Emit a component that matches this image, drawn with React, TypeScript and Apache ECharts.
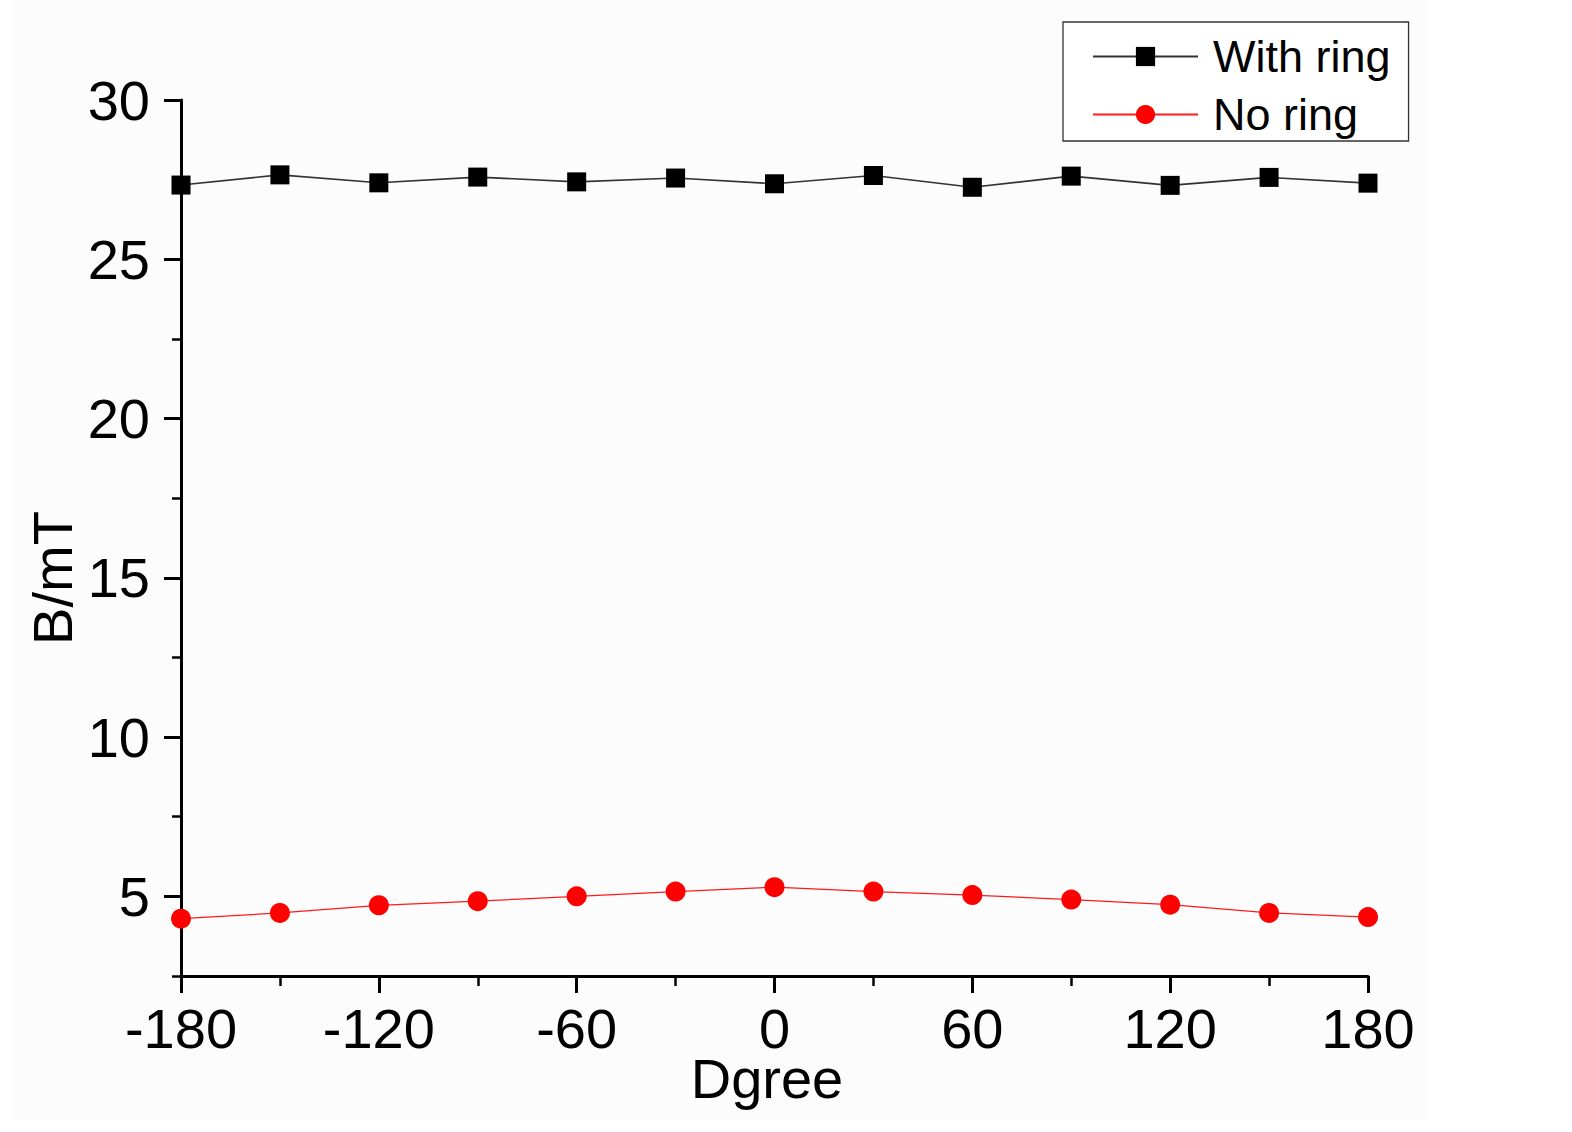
import React, { useEffect, useRef } from "react";
import * as echarts from "echarts";

const degrees = [-180, -150, -120, -90, -60, -30, 0, 30, 60, 90, 120, 150, 180];
const withRing = [27.33, 27.65, 27.4, 27.58, 27.43, 27.55, 27.37, 27.63, 27.26, 27.61, 27.32, 27.57, 27.39];
const noRing = [4.3, 4.48, 4.72, 4.85, 5.0, 5.15, 5.29, 5.15, 5.04, 4.9, 4.74, 4.48, 4.35];
const yMajorTicks = [5, 10, 15, 20, 25, 30];
const yMinorTicks = [2.5, 7.5, 12.5, 17.5, 22.5, 27.5];
const seriesNames = ["With ring", "No ring"];
const xTitle = "Dgree";
const yTitle = "B/mT";

const FONT = "Liberation Sans, Arial, sans-serif";

export default function App() {
  const ref = useRef<HTMLDivElement>(null);
  useEffect(() => {
    if (!ref.current) return;
    const chart = echarts.init(ref.current, null, { renderer: "svg" });
    const pair = (ys: number[]) => degrees.map((d, i) => [d, ys[i]]);
    chart.setOption({
      animation: false,
      backgroundColor: "#ffffff",
      textStyle: { fontFamily: FONT },
      grid: { left: 181, right: 204, top: 100, bottom: 156 },
      graphic: [
        {
          type: "rect",
          z: -10,
          silent: true,
          shape: { x: 14, y: 0, width: 1412, height: 1119 },
          style: { fill: "#fcfcfc" },
        },
        {
          type: "text",
          x: 767,
          y: 1078,
          style: {
            text: xTitle,
            fontSize: 56,
            lineHeight: 44,
            fontFamily: FONT,
            fill: "#000",
            textAlign: "center",
            textVerticalAlign: "middle",
          },
        },
        {
          type: "text",
          x: 52,
          y: 578,
          rotation: Math.PI / 2,
          style: {
            text: yTitle,
            fontSize: 56,
            fontFamily: FONT,
            fill: "#000",
            textAlign: "center",
            textVerticalAlign: "middle",
          },
        },
      ],
      legend: {
        orient: "vertical",
        left: 1063,
        top: 22,
        borderColor: "#333",
        borderWidth: 1.3,
        backgroundColor: "#fff",
        padding: [12, 18, 4, 29],
        itemWidth: 105,
        itemHeight: 24,
        itemGap: 13,
        data: seriesNames,
        textStyle: { fontSize: 45, color: "#000", fontFamily: FONT, padding: [0, 0, 0, 10] },
      },
      xAxis: {
        type: "value",
        min: -180,
        max: 180,
        interval: 60,
        axisLine: { onZero: false, lineStyle: { color: "#000", width: 3 } },
        axisTick: { show: true, inside: false, length: 17, lineStyle: { color: "#000", width: 3 } },
        minorTick: { show: true, splitNumber: 2, length: 10, lineStyle: { color: "#000", width: 2.5 } },
        axisLabel: { fontSize: 56, lineHeight: 44, color: "#000", fontFamily: FONT, margin: 30 },
        splitLine: { show: false },
      },
      yAxis: [
        {
          type: "value",
          position: "left",
          min: 2.5,
          max: 30,
          axisLine: { show: true, onZero: false, lineStyle: { color: "#000", width: 3 } },
          axisTick: { show: true, length: 17, customValues: yMajorTicks, lineStyle: { color: "#000", width: 3 } },
          axisLabel: { fontSize: 56, color: "#000", fontFamily: FONT, margin: 31, customValues: yMajorTicks },
          splitLine: { show: false },
        },
        {
          type: "value",
          position: "left",
          offset: 0,
          min: 2.5,
          max: 30,
          axisLine: { show: false, onZero: false },
          axisTick: { show: true, length: 9, customValues: yMinorTicks, lineStyle: { color: "#000", width: 2.5 } },
          axisLabel: { show: false },
          splitLine: { show: false },
        },
      ],
      series: [
        {
          name: seriesNames[0],
          type: "line",
          data: pair(withRing),
          symbol: "rect",
          symbolSize: 19,
          itemStyle: { color: "#000" },
          lineStyle: { color: "#333", width: 1.6 },
        },
        {
          name: seriesNames[1],
          type: "line",
          data: pair(noRing),
          symbol: "circle",
          symbolSize: 20,
          itemStyle: { color: "#ff0000" },
          lineStyle: { color: "#ff1a1a", width: 1.3 },
        },
      ],
    });
    return () => chart.dispose();
  }, []);
  return (
    <div
      ref={ref}
      style={{ position: "absolute", left: 0, top: 0, width: 1572, height: 1132 }}
    />
  );
}
